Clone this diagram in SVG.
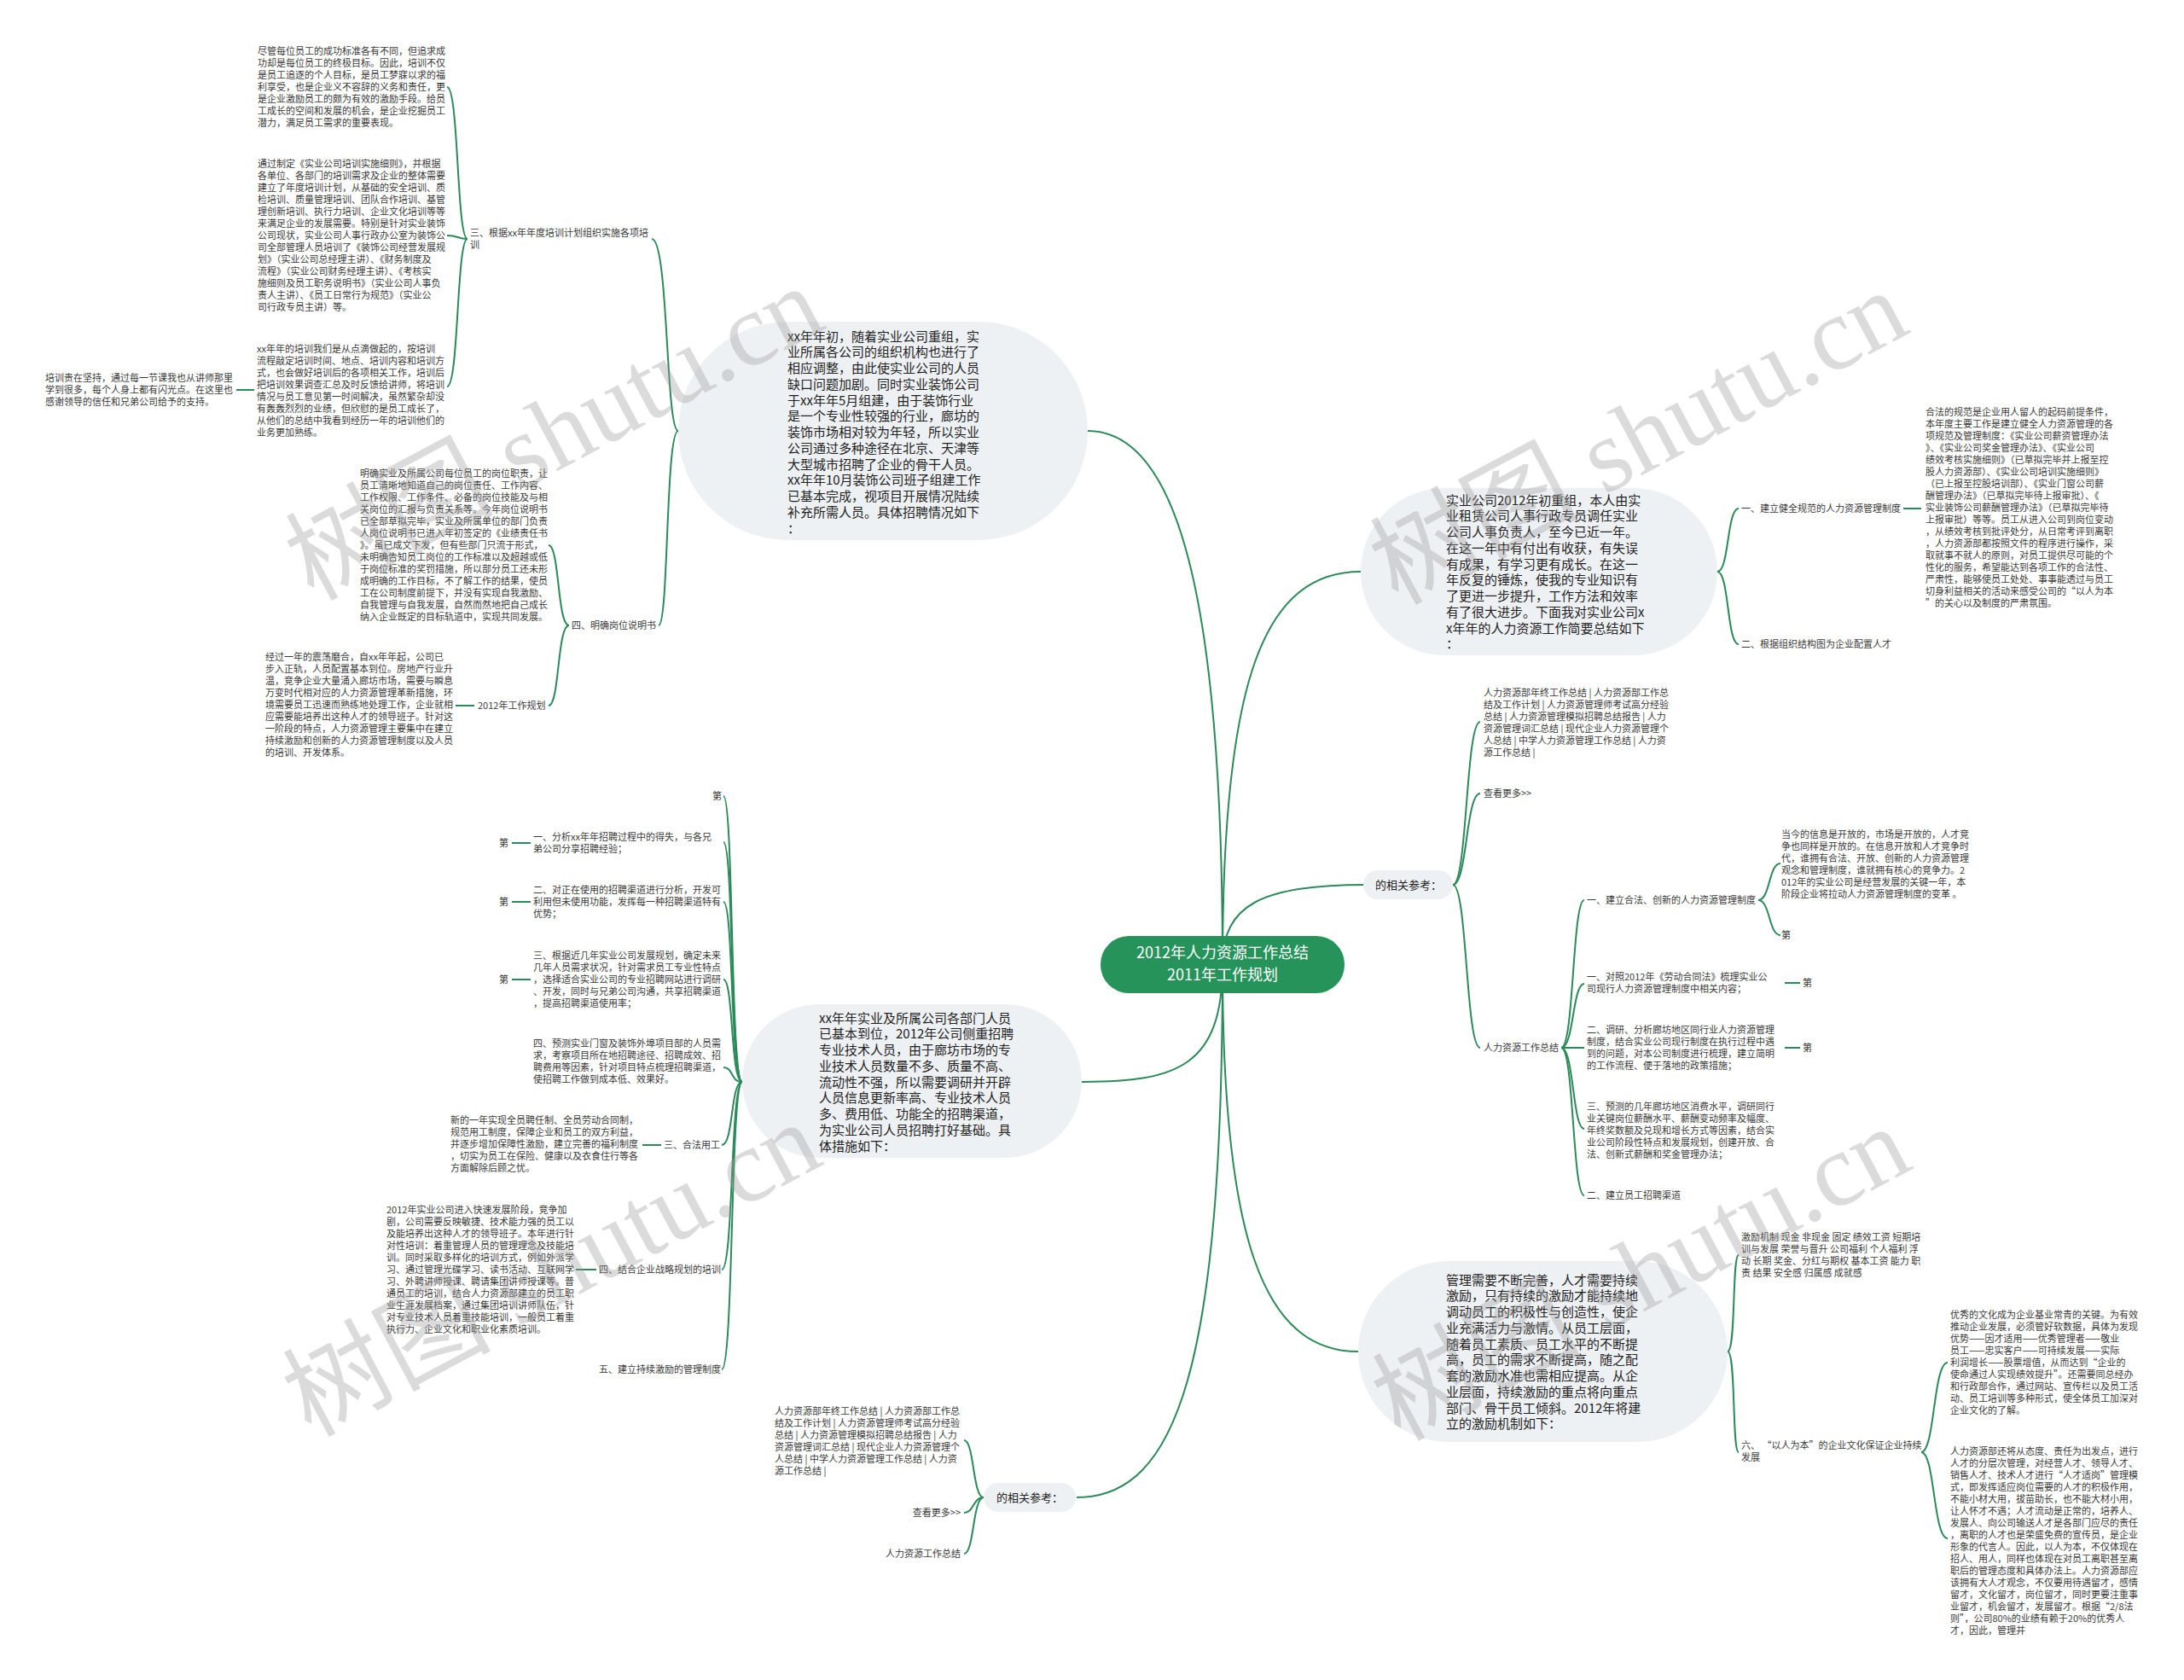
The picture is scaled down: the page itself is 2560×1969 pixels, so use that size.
<svg xmlns="http://www.w3.org/2000/svg" width="2560" height="1969" viewBox="0 0 2560 1969">
<style>
text{font-family:"Noto Sans CJK SC","Noto Sans",sans-serif;}
.s{font-size:11px;fill:#3a3a3a;}
.b{font-size:15px;fill:#222;}
.r{font-size:13px;fill:#222;}
.bub{fill:#eef1f4;}
.ln{fill:none;stroke:#2b8a59;stroke-width:2;}
.wm{font-family:"Liberation Serif","Noto Sans CJK SC",serif;font-size:122px;fill:#9a9a9a;opacity:0.35;}
</style>
<rect width="2560" height="1969" fill="#ffffff"/>
<g id="connectors">
<path class="ln" d="M1433,1130 C1433,700 1380,505 1275,505"/>
<path class="ln" d="M1433,1130 C1433,1250 1380,1268 1268,1268"/>
<path class="ln" d="M1433,1130 C1433,1600 1380,1755 1262,1755"/>
<path class="ln" d="M1433,1130 C1433,800 1480,670 1595,670"/>
<path class="ln" d="M1433,1130 C1433,1060 1480,1037 1600,1037"/>
<path class="ln" d="M1433,1130 C1433,1450 1480,1584 1592,1584"/>
<path class="ln" d="M795,505 C780,505 784,280 764,280"/>
<path class="ln" d="M795,505 C780,505 784,733 772,733"/>
<path class="ln" d="M548,280 C535,280 538,102 524,102"/>
<path class="ln" d="M548,280 C535,280 538,276 524,276"/>
<path class="ln" d="M548,280 C535,280 538,453 524,453"/>
<path class="ln" d="M298,457 L277,457"/>
<path class="ln" d="M667,733 C653,733 656,639 643,639"/>
<path class="ln" d="M667,733 C653,733 656,827 643,827"/>
<path class="ln" d="M556,827 L534,827"/>
<path class="ln" d="M870,1268 C856,1268 860,933 848,933"/>
<path class="ln" d="M870,1268 C856,1268 860,987 848,987"/>
<path class="ln" d="M870,1268 C856,1268 860,1057 848,1057"/>
<path class="ln" d="M870,1268 C856,1268 860,1148 848,1148"/>
<path class="ln" d="M870,1268 C856,1268 860,1251 848,1251"/>
<path class="ln" d="M870,1268 C856,1268 860,1342 846,1342"/>
<path class="ln" d="M870,1268 C856,1268 860,1488 846,1488"/>
<path class="ln" d="M870,1268 C856,1268 860,1605 846,1605"/>
<path class="ln" d="M622,988 L600,988"/>
<path class="ln" d="M622,1057 L600,1057"/>
<path class="ln" d="M622,1148 L600,1148"/>
<path class="ln" d="M775,1342 L753,1342"/>
<path class="ln" d="M699,1488 L675,1488"/>
<path class="ln" d="M1153,1755 C1140,1755 1142,1688 1130,1688"/>
<path class="ln" d="M1153,1755 C1140,1755 1142,1773 1130,1773"/>
<path class="ln" d="M1153,1755 C1140,1755 1142,1821 1130,1821"/>
<path class="ln" d="M2013,670 C2027,670 2024,596 2038,596"/>
<path class="ln" d="M2013,670 C2027,670 2024,755 2038,755"/>
<path class="ln" d="M2231,596 L2252,596"/>
<path class="ln" d="M1703,1037 C1720,1037 1718,846 1735,846"/>
<path class="ln" d="M1703,1037 C1720,1037 1718,930 1735,930"/>
<path class="ln" d="M1703,1037 C1720,1037 1718,1228 1735,1228"/>
<path class="ln" d="M1830,1228 C1845,1228 1843,1055 1857,1055"/>
<path class="ln" d="M1830,1228 C1845,1228 1843,1153 1857,1153"/>
<path class="ln" d="M1830,1228 L1857,1228"/>
<path class="ln" d="M1830,1228 C1845,1228 1843,1323 1857,1323"/>
<path class="ln" d="M1830,1228 C1845,1228 1843,1401 1857,1401"/>
<path class="ln" d="M2061,1055 C2075,1055 2073,1012 2087,1012"/>
<path class="ln" d="M2061,1055 C2075,1055 2073,1096 2087,1096"/>
<path class="ln" d="M2092,1152 L2110,1152"/>
<path class="ln" d="M2092,1228 L2110,1228"/>
<path class="ln" d="M2025,1584 C2035,1584 2030,1471 2038,1471"/>
<path class="ln" d="M2025,1584 C2035,1584 2030,1702 2038,1702"/>
<path class="ln" d="M2252,1702 C2268,1702 2266,1597 2283,1597"/>
<path class="ln" d="M2252,1702 C2268,1702 2266,1803 2283,1803"/>
</g>
<g id="root">
<rect x="1290" y="1097" width="286" height="67" rx="33" fill="#25935a"/>
<text x="1433" y="1123" text-anchor="middle" font-size="18" fill="#ffffff">2012年人力资源工作总结</text>
<text x="1433" y="1149" text-anchor="middle" font-size="18" fill="#ffffff">2011年工作规划</text>
</g>
<g id="bubble-top">
<rect class="bub" x="795" y="377" width="480" height="256" rx="128"/>
<text class="b" x="923" y="399.5"><tspan x="923" dy="0">xx年年初，随着实业公司重组，实</tspan><tspan x="923" dy="18.75">业所属各公司的组织机构也进行了</tspan><tspan x="923" dy="18.75">相应调整，由此使实业公司的人员</tspan><tspan x="923" dy="18.75">缺口问题加剧。同时实业装饰公司</tspan><tspan x="923" dy="18.75">于xx年年5月组建，由于装饰行业</tspan><tspan x="923" dy="18.75">是一个专业性较强的行业，廊坊的</tspan><tspan x="923" dy="18.75">装饰市场相对较为年轻，所以实业</tspan><tspan x="923" dy="18.75">公司通过多种途径在北京、天津等</tspan><tspan x="923" dy="18.75">大型城市招聘了企业的骨干人员。</tspan><tspan x="923" dy="18.75">xx年年10月装饰公司班子组建工作</tspan><tspan x="923" dy="18.75">已基本完成，视项目开展情况陆续</tspan><tspan x="923" dy="18.75">补充所需人员。具体招聘情况如下</tspan><tspan x="923" dy="18.75">：</tspan></text>
</g>
<g id="label-san">
<text class="s" x="551" y="277"><tspan x="551" dy="0">三、根据xx年年度培训计划组织实施各项培</tspan><tspan x="551" dy="14">训</tspan></text>
</g>
<g id="para-1">
<text class="s" x="302" y="64"><tspan x="302" dy="0">尽管每位员工的成功标准各有不同，但追求成</tspan><tspan x="302" dy="14">功却是每位员工的终极目标。因此，培训不仅</tspan><tspan x="302" dy="14">是员工追逐的个人目标，是员工梦寐以求的福</tspan><tspan x="302" dy="14">利享受，也是企业义不容辞的义务和责任，更</tspan><tspan x="302" dy="14">是企业激励员工的颇为有效的激励手段。给员</tspan><tspan x="302" dy="14">工成长的空间和发展的机会，是企业挖掘员工</tspan><tspan x="302" dy="14">潜力，满足员工需求的重要表现。</tspan></text>
</g>
<g id="para-2">
<text class="s" x="302" y="196"><tspan x="302" dy="0">通过制定《实业公司培训实施细则》，并根据</tspan><tspan x="302" dy="14">各单位、各部门的培训需求及企业的整体需要</tspan><tspan x="302" dy="14">建立了年度培训计划，从基础的安全培训、质</tspan><tspan x="302" dy="14">检培训、质量管理培训、团队合作培训、基管</tspan><tspan x="302" dy="14">理创新培训、执行力培训、企业文化培训等等</tspan><tspan x="302" dy="14">来满足企业的发展需要。特别是针对实业装饰</tspan><tspan x="302" dy="14">公司现状，实业公司人事行政办公室为装饰公</tspan><tspan x="302" dy="14">司全部管理人员培训了《装饰公司经营发展规</tspan><tspan x="302" dy="14">划》（实业公司总经理主讲）、《财务制度及</tspan><tspan x="302" dy="14">流程》（实业公司财务经理主讲）、《考核实</tspan><tspan x="302" dy="14">施细则及员工职务说明书》（实业公司人事负</tspan><tspan x="302" dy="14">责人主讲）、《员工日常行为规范》（实业公</tspan><tspan x="302" dy="14">司行政专员主讲）等。</tspan></text>
</g>
<g id="para-3">
<text class="s" x="301" y="413"><tspan x="301" dy="0">xx年年的培训我们是从点滴做起的，按培训</tspan><tspan x="301" dy="14">流程敲定培训时间、地点、培训内容和培训方</tspan><tspan x="301" dy="14">式，也会做好培训后的各项相关工作，培训后</tspan><tspan x="301" dy="14">把培训效果调查汇总及时反馈给讲师，将培训</tspan><tspan x="301" dy="14">情况与员工意见第一时间解决，虽然繁杂却没</tspan><tspan x="301" dy="14">有轰轰烈烈的业绩，但欣慰的是员工成长了，</tspan><tspan x="301" dy="14">从他们的总结中我看到经历一年的培训他们的</tspan><tspan x="301" dy="14">业务更加熟练。</tspan></text>
</g>
<g id="para-3a">
<text class="s" x="53" y="447"><tspan x="53" dy="0">培训贵在坚持，通过每一节课我也从讲师那里</tspan><tspan x="53" dy="14">学到很多，每个人身上都有闪光点。在这里也</tspan><tspan x="53" dy="14">感谢领导的信任和兄弟公司给予的支持。</tspan></text>
</g>
<g id="label-si">
<text class="s" x="670" y="737">四、明确岗位说明书</text>
</g>
<g id="para-4">
<text class="s" x="422" y="559"><tspan x="422" dy="0">明确实业及所属公司每位员工的岗位职责，让</tspan><tspan x="422" dy="14">员工清晰地知道自己的岗位责任、工作内容、</tspan><tspan x="422" dy="14">工作权限、工作条件、必备的岗位技能及与相</tspan><tspan x="422" dy="14">关岗位的汇报与负责关系等。今年岗位说明书</tspan><tspan x="422" dy="14">已全部草拟完毕，实业及所属单位的部门负责</tspan><tspan x="422" dy="14">人岗位说明书已进入年初签定的《业绩责任书</tspan><tspan x="422" dy="14">》。虽已成文下发，但有些部门只流于形式，</tspan><tspan x="422" dy="14">未明确告知员工岗位的工作标准以及超越或低</tspan><tspan x="422" dy="14">于岗位标准的奖罚措施，所以部分员工还未形</tspan><tspan x="422" dy="14">成明确的工作目标，不了解工作的结果，使员</tspan><tspan x="422" dy="14">工在公司制度前提下，并没有实现自我激励、</tspan><tspan x="422" dy="14">自我管理与自我发展，自然而然地把自己成长</tspan><tspan x="422" dy="14">纳入企业既定的目标轨道中，实现共同发展。</tspan></text>
</g>
<g id="label-plan">
<text class="s" x="560" y="831">2012年工作规划</text>
</g>
<g id="para-plan">
<text class="s" x="311" y="774"><tspan x="311" dy="0">经过一年的震荡磨合，自xx年年起，公司已</tspan><tspan x="311" dy="14">步入正轨，人员配置基本到位。房地产行业升</tspan><tspan x="311" dy="14">温，竞争企业大量涌入廊坊市场，需要与瞬息</tspan><tspan x="311" dy="14">万变时代相对应的人力资源管理革新措施，环</tspan><tspan x="311" dy="14">境需要员工迅速而熟练地处理工作，企业就相</tspan><tspan x="311" dy="14">应需要能培养出这种人才的领导班子。针对这</tspan><tspan x="311" dy="14">一阶段的特点，人力资源管理主要集中在建立</tspan><tspan x="311" dy="14">持续激励和创新的人力资源管理制度以及人员</tspan><tspan x="311" dy="14">的培训、开发体系。</tspan></text>
</g>
<g id="bubble-lowleft">
<rect class="bub" x="870" y="1177" width="398" height="180" rx="90"/>
<text class="b" x="960" y="1198.5"><tspan x="960" dy="0">xx年年实业及所属公司各部门人员</tspan><tspan x="960" dy="18.75">已基本到位，2012年公司侧重招聘</tspan><tspan x="960" dy="18.75">专业技术人员，由于廊坊市场的专</tspan><tspan x="960" dy="18.75">业技术人员数量不多、质量不高、</tspan><tspan x="960" dy="18.75">流动性不强，所以需要调研并开辟</tspan><tspan x="960" dy="18.75">人员信息更新率高、专业技术人员</tspan><tspan x="960" dy="18.75">多、费用低、功能全的招聘渠道，</tspan><tspan x="960" dy="18.75">为实业公司人员招聘打好基础。具</tspan><tspan x="960" dy="18.75">体措施如下：</tspan></text>
</g>
<g id="ll-di0"><text class="s" x="846" y="937" text-anchor="end">第</text></g>
<g id="ll-item1">
<text class="s" x="625" y="985"><tspan x="625" dy="0">一、分析xx年年招聘过程中的得失，与各兄</tspan><tspan x="625" dy="14">弟公司分享招聘经验；</tspan></text>
<text class="s" x="585" y="992">第</text>
</g>
<g id="ll-item2">
<text class="s" x="625" y="1047"><tspan x="625" dy="0">二、对正在使用的招聘渠道进行分析，开发可</tspan><tspan x="625" dy="14">利用但未使用功能，发挥每一种招聘渠道特有</tspan><tspan x="625" dy="14">优势；</tspan></text>
<text class="s" x="585" y="1061">第</text>
</g>
<g id="ll-item3">
<text class="s" x="625" y="1124"><tspan x="625" dy="0">三、根据近几年实业公司发展规划，确定未来</tspan><tspan x="625" dy="14">几年人员需求状况，针对需求员工专业性特点</tspan><tspan x="625" dy="14">，选择适合实业公司的专业招聘网站进行调研</tspan><tspan x="625" dy="14">、开发，同时与兄弟公司沟通，共享招聘渠道</tspan><tspan x="625" dy="14">，提高招聘渠道使用率；</tspan></text>
<text class="s" x="585" y="1152">第</text>
</g>
<g id="ll-item4">
<text class="s" x="625" y="1227"><tspan x="625" dy="0">四、预测实业门窗及装饰外埠项目部的人员需</tspan><tspan x="625" dy="14">求，考察项目所在地招聘途径、招聘成效、招</tspan><tspan x="625" dy="14">聘费用等因素，针对项目特点梳理招聘渠道，</tspan><tspan x="625" dy="14">使招聘工作做到成本低、效果好。</tspan></text>
</g>
<g id="ll-legal">
<text class="s" x="778" y="1346">三、合法用工</text>
<text class="s" x="528" y="1317"><tspan x="528" dy="0">新的一年实现全员聘任制、全员劳动合同制，</tspan><tspan x="528" dy="14">规范用工制度，保障企业和员工的双方利益，</tspan><tspan x="528" dy="14">并逐步增加保障性激励，建立完善的福利制度</tspan><tspan x="528" dy="14">，切实为员工在保险、健康以及衣食住行等各</tspan><tspan x="528" dy="14">方面解除后顾之忧。</tspan></text>
</g>
<g id="ll-train">
<text class="s" x="702" y="1492">四、结合企业战略规划的培训</text>
<text class="s" x="453" y="1422"><tspan x="453" dy="0">2012年实业公司进入快速发展阶段，竞争加</tspan><tspan x="453" dy="14">剧，公司需要反映敏捷、技术能力强的员工以</tspan><tspan x="453" dy="14">及能培养出这种人才的领导班子。本年进行针</tspan><tspan x="453" dy="14">对性培训：着重管理人员的管理理念及技能培</tspan><tspan x="453" dy="14">训。同时采取多样化的培训方式，例如外派学</tspan><tspan x="453" dy="14">习、通过管理光碟学习、读书活动、互联网学</tspan><tspan x="453" dy="14">习、外聘讲师授课、聘请集团讲师授课等。普</tspan><tspan x="453" dy="14">通员工的培训，结合人力资源部建立的员工职</tspan><tspan x="453" dy="14">业生涯发展档案，通过集团培训讲师队伍，针</tspan><tspan x="453" dy="14">对专业技术人员着重技能培训，一般员工着重</tspan><tspan x="453" dy="14">执行力、企业文化和职业化素质培训。</tspan></text>
</g>
<g id="ll-five"><text class="s" x="702" y="1609">五、建立持续激励的管理制度</text></g>
<g id="refs-bottom">
<rect class="bub" x="1153" y="1738" width="108" height="34" rx="17"/>
<text class="r" x="1207" y="1760" text-anchor="middle">的相关参考：</text>
</g>
<g id="refs-bottom-list">
<text class="s" x="908" y="1658"><tspan x="908" dy="0">人力资源部年终工作总结 | 人力资源部工作总</tspan><tspan x="908" dy="14">结及工作计划 | 人力资源管理师考试高分经验</tspan><tspan x="908" dy="14">总结 | 人力资源管理模拟招聘总结报告 | 人力</tspan><tspan x="908" dy="14">资源管理词汇总结 | 现代企业人力资源管理个</tspan><tspan x="908" dy="14">人总结 | 中学人力资源管理工作总结 | 人力资</tspan><tspan x="908" dy="14">源工作总结 |</tspan></text>
</g>
<g id="refs-bottom-more"><text class="s" x="1126" y="1777" text-anchor="end">查看更多&gt;&gt;</text></g>
<g id="refs-bottom-hr"><text class="s" x="1126" y="1825" text-anchor="end">人力资源工作总结</text></g>
<g id="bubble-righttop">
<rect class="bub" x="1595" y="572" width="418" height="196" rx="98"/>
<text class="b" x="1695" y="591.5"><tspan x="1695" dy="0">实业公司2012年初重组，本人由实</tspan><tspan x="1695" dy="18.75">业租赁公司人事行政专员调任实业</tspan><tspan x="1695" dy="18.75">公司人事负责人，至今已近一年。</tspan><tspan x="1695" dy="18.75">在这一年中有付出有收获，有失误</tspan><tspan x="1695" dy="18.75">有成果，有学习更有成长。在这一</tspan><tspan x="1695" dy="18.75">年反复的锤炼，使我的专业知识有</tspan><tspan x="1695" dy="18.75">了更进一步提升，工作方法和效率</tspan><tspan x="1695" dy="18.75">有了很大进步。下面我对实业公司x</tspan><tspan x="1695" dy="18.75">x年年的人力资源工作简要总结如下</tspan><tspan x="1695" dy="18.75">：</tspan></text>
</g>
<g id="rt-item1">
<text class="s" x="2041" y="600">一、建立健全规范的人力资源管理制度</text>
<text class="s" x="2257" y="487"><tspan x="2257" dy="0">合法的规范是企业用人留人的起码前提条件，</tspan><tspan x="2257" dy="14">本年度主要工作是建立健全人力资源管理的各</tspan><tspan x="2257" dy="14">项规范及管理制度：《实业公司薪资管理办法</tspan><tspan x="2257" dy="14">》、《实业公司奖金管理办法》、《实业公司</tspan><tspan x="2257" dy="14">绩效考核实施细则》（已草拟完毕并上报至控</tspan><tspan x="2257" dy="14">股人力资源部）、《实业公司培训实施细则》</tspan><tspan x="2257" dy="14">（已上报至控股培训部）、《实业门窗公司薪</tspan><tspan x="2257" dy="14">酬管理办法》（已草拟完毕待上报审批）、《</tspan><tspan x="2257" dy="14">实业装饰公司薪酬管理办法》（已草拟完毕待</tspan><tspan x="2257" dy="14">上报审批）等等。员工从进入公司到岗位变动</tspan><tspan x="2257" dy="14">，从绩效考核到批评处分，从日常考评到离职</tspan><tspan x="2257" dy="14">，人力资源部都按照文件的程序进行操作，采</tspan><tspan x="2257" dy="14">取就事不就人的原则，对员工提供尽可能的个</tspan><tspan x="2257" dy="14">性化的服务，希望能达到各项工作的合法性、</tspan><tspan x="2257" dy="14">严肃性，能够使员工处处、事事能透过与员工</tspan><tspan x="2257" dy="14">切身利益相关的活动来感受公司的“以人为本</tspan><tspan x="2257" dy="14">”的关心以及制度的严肃氛围。</tspan></text>
</g>
<g id="rt-item2"><text class="s" x="2041" y="759">二、根据组织结构图为企业配置人才</text></g>
<g id="refs-right">
<rect class="bub" x="1598" y="1020" width="105" height="34" rx="17"/>
<text class="r" x="1651" y="1042" text-anchor="middle">的相关参考：</text>
</g>
<g id="refs-right-list">
<text class="s" x="1739" y="816"><tspan x="1739" dy="0">人力资源部年终工作总结 | 人力资源部工作总</tspan><tspan x="1739" dy="14">结及工作计划 | 人力资源管理师考试高分经验</tspan><tspan x="1739" dy="14">总结 | 人力资源管理模拟招聘总结报告 | 人力</tspan><tspan x="1739" dy="14">资源管理词汇总结 | 现代企业人力资源管理个</tspan><tspan x="1739" dy="14">人总结 | 中学人力资源管理工作总结 | 人力资</tspan><tspan x="1739" dy="14">源工作总结 |</tspan></text>
</g>
<g id="refs-right-more"><text class="s" x="1739" y="934">查看更多&gt;&gt;</text></g>
<g id="refs-right-hr"><text class="s" x="1739" y="1232">人力资源工作总结</text></g>
<g id="hr-item1">
<text class="s" x="1860" y="1059">一、建立合法、创新的人力资源管理制度</text>
<text class="s" x="2088" y="982"><tspan x="2088" dy="0">当今的信息是开放的，市场是开放的，人才竞</tspan><tspan x="2088" dy="14">争也同样是开放的。在信息开放和人才竞争时</tspan><tspan x="2088" dy="14">代，谁拥有合法、开放、创新的人力资源管理</tspan><tspan x="2088" dy="14">观念和管理制度，谁就拥有核心的竞争力。2</tspan><tspan x="2088" dy="14">012年的实业公司是经营发展的关键一年，本</tspan><tspan x="2088" dy="14">阶段企业将拉动人力资源管理制度的变革 。</tspan></text>
<text class="s" x="2088" y="1100">第</text>
</g>
<g id="hr-item2">
<text class="s" x="1860" y="1149"><tspan x="1860" dy="0">一、对照2012年《劳动合同法》梳理实业公</tspan><tspan x="1860" dy="14">司现行人力资源管理制度中相关内容；</tspan></text>
<text class="s" x="2113" y="1156">第</text>
</g>
<g id="hr-item3">
<text class="s" x="1860" y="1211"><tspan x="1860" dy="0">二、调研、分析廊坊地区同行业人力资源管理</tspan><tspan x="1860" dy="14">制度，结合实业公司现行制度在执行过程中遇</tspan><tspan x="1860" dy="14">到的问题，对本公司制度进行梳理，建立简明</tspan><tspan x="1860" dy="14">的工作流程、便于落地的政策措施；</tspan></text>
<text class="s" x="2113" y="1232">第</text>
</g>
<g id="hr-item4">
<text class="s" x="1860" y="1301"><tspan x="1860" dy="0">三、预测的几年廊坊地区消费水平，调研同行</tspan><tspan x="1860" dy="14">业关键岗位薪酬水平、薪酬变动频率及幅度、</tspan><tspan x="1860" dy="14">年终奖数额及兑现和增长方式等因素，结合实</tspan><tspan x="1860" dy="14">业公司阶段性特点和发展规划，创建开放、合</tspan><tspan x="1860" dy="14">法、创新式薪酬和奖金管理办法；</tspan></text>
</g>
<g id="hr-item5"><text class="s" x="1860" y="1405">二、建立员工招聘渠道</text></g>
<g id="bubble-rightlow">
<rect class="bub" x="1592" y="1478" width="433" height="212" rx="106"/>
<text class="b" x="1695" y="1505.5"><tspan x="1695" dy="0">管理需要不断完善，人才需要持续</tspan><tspan x="1695" dy="18.75">激励，只有持续的激励才能持续地</tspan><tspan x="1695" dy="18.75">调动员工的积极性与创造性，使企</tspan><tspan x="1695" dy="18.75">业充满活力与激情。从员工层面，</tspan><tspan x="1695" dy="18.75">随着员工素质、员工水平的不断提</tspan><tspan x="1695" dy="18.75">高，员工的需求不断提高，随之配</tspan><tspan x="1695" dy="18.75">套的激励水准也需相应提高。从企</tspan><tspan x="1695" dy="18.75">业层面，持续激励的重点将向重点</tspan><tspan x="1695" dy="18.75">部门、骨干员工倾斜。2012年将建</tspan><tspan x="1695" dy="18.75">立的激励机制如下：</tspan></text>
</g>
<g id="rl-item1">
<text class="s" x="2041" y="1454"><tspan x="2041" dy="0">激励机制 现金 非现金 固定 绩效工资 短期培</tspan><tspan x="2041" dy="14">训与发展 荣誉与晋升 公司福利 个人福利 浮</tspan><tspan x="2041" dy="14">动 长期 奖金、分红与期权 基本工资 能力 职</tspan><tspan x="2041" dy="14">责 结果 安全感 归属感 成就感</tspan></text>
</g>
<g id="rl-item2">
<text class="s" x="2041" y="1698"><tspan x="2041" dy="0">六、 “以人为本”的企业文化保证企业持续</tspan><tspan x="2041" dy="14">发展</tspan></text>
</g>
<g id="rl-para1">
<text class="s" x="2286" y="1545"><tspan x="2286" dy="0">优秀的文化成为企业基业常青的关键。为有效</tspan><tspan x="2286" dy="14">推动企业发展，必须管好软数据，具体为发现</tspan><tspan x="2286" dy="14">优势——因才适用——优秀管理者——敬业</tspan><tspan x="2286" dy="14">员工——忠实客户——可持续发展——实际</tspan><tspan x="2286" dy="14">利润增长——股票增值，从而达到“企业的</tspan><tspan x="2286" dy="14">使命通过人实现绩效提升”。还需要同总经办</tspan><tspan x="2286" dy="14">和行政部合作，通过网站、宣传栏以及员工活</tspan><tspan x="2286" dy="14">动、员工培训等多种形式，使全体员工加深对</tspan><tspan x="2286" dy="14">企业文化的了解。</tspan></text>
</g>
<g id="rl-para2">
<text class="s" x="2286" y="1705"><tspan x="2286" dy="0">人力资源部还将从态度、责任为出发点，进行</tspan><tspan x="2286" dy="14">人才的分层次管理，对经营人才、领导人才、</tspan><tspan x="2286" dy="14">销售人才、技术人才进行“人才适岗”管理模</tspan><tspan x="2286" dy="14">式，即发挥适应岗位需要的人才的积极作用，</tspan><tspan x="2286" dy="14">不能小材大用，拔苗助长，也不能大材小用，</tspan><tspan x="2286" dy="14">让人怀才不遇；人才流动是正常的，培养人、</tspan><tspan x="2286" dy="14">发展人、向公司输送人才是各部门应尽的责任</tspan><tspan x="2286" dy="14">，离职的人才也是荣盛免费的宣传员，是企业</tspan><tspan x="2286" dy="14">形象的代言人。因此，以人为本，不仅体现在</tspan><tspan x="2286" dy="14">招人、用人，同样也体现在对员工离职甚至离</tspan><tspan x="2286" dy="14">职后的管理态度和具体办法上。人力资源部应</tspan><tspan x="2286" dy="14">该拥有大人才观念，不仅要用待遇留才，感情</tspan><tspan x="2286" dy="14">留才，文化留才，岗位留才，同时更要注重事</tspan><tspan x="2286" dy="14">业留才，机会留才，发展留才。根据“2/8法</tspan><tspan x="2286" dy="14">则”，公司80%的业绩有赖于20%的优秀人</tspan><tspan x="2286" dy="14">才，因此，管理并</tspan></text>
</g>
<g id="watermarks">
<text class="wm" x="653" y="548" text-anchor="middle" transform="rotate(-28 653 514)">树图 shutu.cn</text>
<text class="wm" x="1924" y="553" text-anchor="middle" transform="rotate(-28 1924 519)">树图 shutu.cn</text>
<text class="wm" x="650" y="1528" text-anchor="middle" transform="rotate(-28 650 1494)">树图 shutu.cn</text>
<text class="wm" x="1927" y="1533" text-anchor="middle" transform="rotate(-28 1927 1499)">树图 shutu.cn</text>
</g>
</svg>
